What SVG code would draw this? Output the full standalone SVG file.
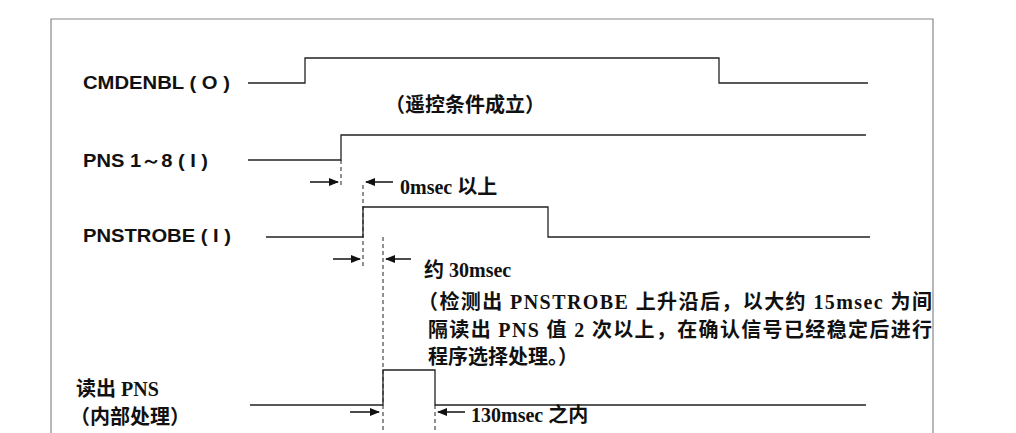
<svg xmlns="http://www.w3.org/2000/svg" width="1016" height="433" viewBox="0 0 1016 433">
<style>
.sig{fill:none;stroke:#222;stroke-width:1.3}
.dash{stroke:#222;stroke-width:1;stroke-dasharray:4,3}
.arr{stroke:#111;stroke-width:1.5;marker-end:url(#ah)}
.lab{font-family:"Liberation Sans",Arial,sans-serif;font-weight:bold;font-size:19px;fill:#111}
.cn{font-family:"Liberation Serif","Noto Sans CJK SC",serif;font-weight:bold;font-size:20px;fill:#111}
</style>
<defs><marker id="ah" markerWidth="10" markerHeight="8" refX="9" refY="4" orient="auto" markerUnits="userSpaceOnUse"><path d="M0,0L10,4L0,8z" fill="#111"/></marker></defs>
<rect width="1016" height="433" fill="#fff"/>
<path d="M51,433V19H933V433" fill="none" stroke="#888" stroke-width="1.2"/>
<g id="cmdenbl"><text class="lab" x="83" y="89" textLength="147" lengthAdjust="spacingAndGlyphs">CMDENBL ( O )</text><path class="sig" d="M248,83H305V58H719V83H868"/></g>
<text class="cn" x="385" y="112" textLength="160">（遥控条件成立）</text>
<g id="pns"><text class="lab" x="83" y="167" textLength="125" lengthAdjust="spacingAndGlyphs">PNS 1～8 ( I )</text><path class="sig" d="M248,160H341V135H866"/></g>
<g id="pnstrobe"><text class="lab" x="83" y="242" textLength="148" lengthAdjust="spacingAndGlyphs">PNSTROBE ( I )</text><path class="sig" d="M266,237H363V207H548V237H870"/></g>
<g id="read"><text class="cn" x="76" y="396">读出 PNS</text><text class="cn" x="70" y="424">（内部处理）</text><path class="sig" d="M250,405H383V370H435V405H866"/></g>
<g id="connectors">
<line class="dash" x1="341" y1="160" x2="341" y2="188"/>
<line class="dash" x1="363" y1="185" x2="363" y2="268"/>
<line class="dash" x1="383" y1="237" x2="383" y2="433"/>
<line class="dash" x1="435" y1="405" x2="435" y2="433"/>
<line class="arr" x1="310" y1="182" x2="338" y2="182"/>
<line class="arr" x1="393" y1="182" x2="366" y2="182"/>
<line class="arr" x1="333" y1="259" x2="360" y2="259"/>
<line class="arr" x1="411" y1="259" x2="386" y2="259"/>
<line class="arr" x1="350" y1="412" x2="379" y2="412"/>
<line class="arr" x1="465" y1="412" x2="438" y2="412"/>
</g>
<text class="cn" x="400" y="194">0msec 以上</text>
<text class="cn" x="424" y="277">约 30msec</text>
<text class="cn" x="418" y="309" textLength="514">（检测出 PNSTROBE 上升沿后，以大约 15msec 为间</text>
<text class="cn" x="428" y="337" textLength="504">隔读出 PNS 值 2 次以上，在确认信号已经稳定后进行</text>
<text class="cn" x="428" y="364">程序选择处理。）</text>
<text class="cn" x="471" y="422">130msec 之内</text>
</svg>
